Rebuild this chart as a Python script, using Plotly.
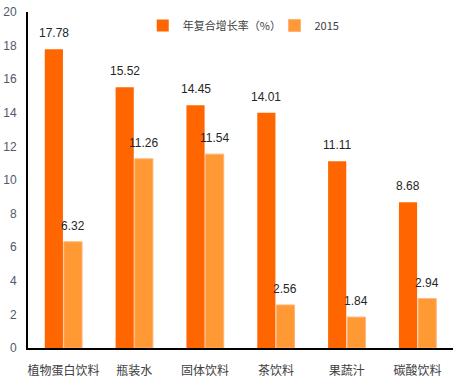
import plotly.graph_objects as go

categories = ["植物蛋白饮料", "瓶装水", "固体饮料", "茶饮料", "果蔬汁", "碳酸饮料"]
cagr = [17.78, 15.52, 14.45, 14.01, 11.11, 8.68]
v2015 = [6.32, 11.26, 11.54, 2.56, 1.84, 2.94]
series_names = ["年复合增长率（%）", "2015"]

fig = go.Figure()
fig.add_trace(go.Bar(x=categories, y=cagr, name=series_names[0], legend="legend",
                     marker=dict(color="#FF6600", line=dict(width=0))))
fig.add_trace(go.Bar(x=categories, y=v2015, name=series_names[1], legend="legend2",
                     marker=dict(color="#FF9933", line=dict(color="#FFB27A", width=1))))

# value labels above bars
for i, c in enumerate(categories):
    for vals, off in ((cagr, -0.135), (v2015, 0.135)):
        fig.add_annotation(x=i + off, y=vals[i], text=f"{vals[i]:.2f}", showarrow=False,
                           yanchor="bottom", yshift=7, xref="x", yref="y",
                           font=dict(family="Liberation Sans", size=12, color="#262626"))

leg_common = dict(orientation="h", xanchor="left", y=0.96, yanchor="middle",
                  font=dict(family="Noto Sans CJK SC", size=11, color="#404040"),
                  itemwidth=30, bgcolor="rgba(0,0,0,0)")

fig.update_layout(
    width=461, height=380,
    margin=dict(l=28, r=8, t=12, b=32, autoexpand=False),
    plot_bgcolor="white", paper_bgcolor="white",
    barmode="group", bargap=0.46, bargroupgap=0.05,
    showlegend=True,
    legend=dict(x=0.27, **leg_common),
    legend2=dict(x=0.58, **leg_common),
    font=dict(family="Noto Sans CJK SC", size=12, color="#404040"),
)
fig.update_xaxes(showline=True, linecolor="black", linewidth=2, ticks="", automargin=False,
                 ticklabelstandoff=11,
                 tickfont=dict(family="Noto Sans CJK SC", size=12, color="#404040"),
                 showgrid=False, zeroline=False)
fig.update_yaxes(range=[0, 20], dtick=2, showline=True, linecolor="black", linewidth=2,
                 ticks="", showgrid=False, zeroline=False, automargin=False,
                 ticklabelstandoff=7,
                 tickfont=dict(family="Liberation Sans", size=12, color="#4D5A6A"))

fig.write_html("out.html", config={"displayModeBar": False},
               post_script="document.body.style.margin='0px';")
